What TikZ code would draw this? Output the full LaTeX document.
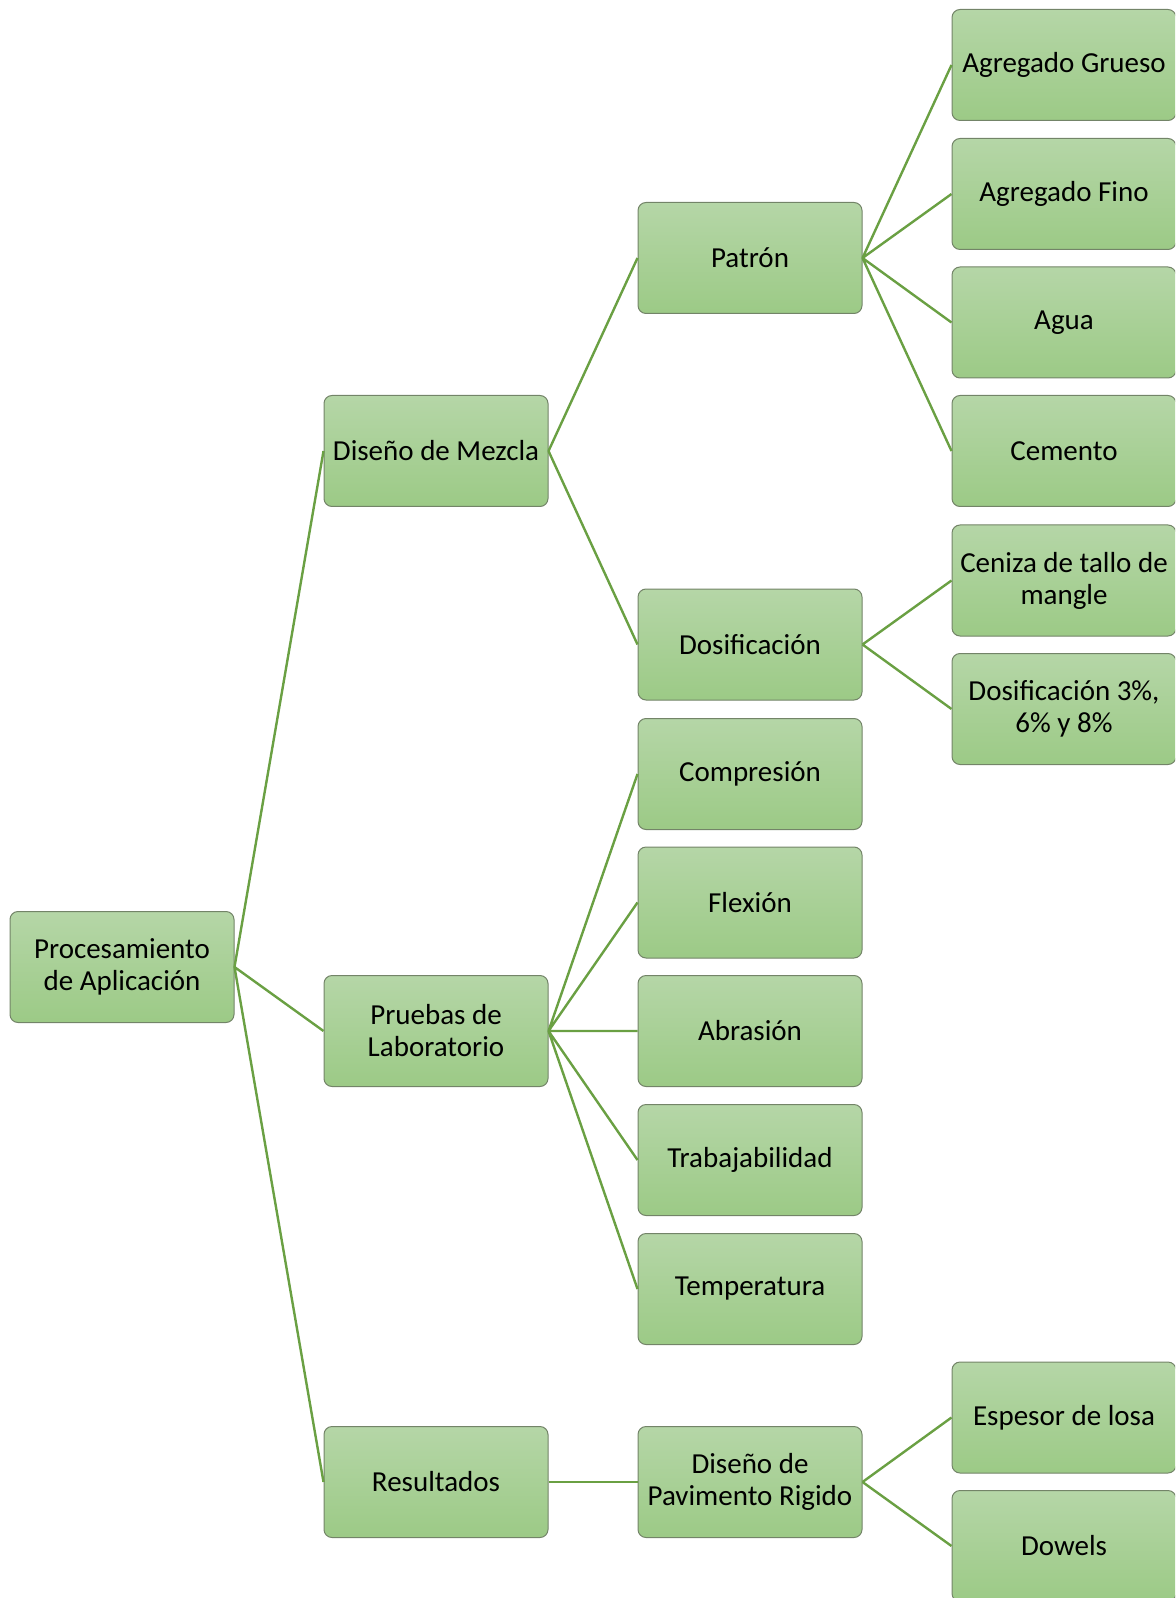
\documentclass[tikz,border=0pt]{standalone}
\usepackage{fontspec}
\setmainfont{Carlito}
\usepackage{tikz}
\definecolor{boxtop}{HTML}{B5D6A7}
\definecolor{boxbottom}{HTML}{9CCA86}
\definecolor{boxedge}{HTML}{738468}
\definecolor{linkgreen}{HTML}{6AA043}

\begin{document}
\begin{tikzpicture}[x=0.5pt, y=-0.5pt,
    box/.style={draw=boxedge, line width=0.5pt, rounded corners=4pt,
        top color=boxtop, bottom color=boxbottom,
        minimum width=112pt, minimum height=55.5pt, inner sep=1pt,
        align=center, font=\fontsize{14.5}{16}\selectfont},
    link/.style={draw=linkgreen, line width=1.2pt}]
    \useasboundingbox (0,0) rectangle (1175,1598);
    \clip (0,0) rectangle (1175,1598);

    % first two levels
    \node [box] (proc) at (122,967) {Procesamiento\\de Aplicación};
    \node [box] (mezcla) at (436,451) {Diseño de Mezcla};
    \node [box] (pruebas) at (436,1031) {Pruebas de\\Laboratorio};
    \node [box] (result) at (436,1482) {Resultados};

    % third level
    \node [box] (patron) at (750,258) {Patrón};
    \node [box] (dosif) at (750,644.5) {Dosificación};
    \node [box] (compr) at (750,774) {Compresión};
    \node [box] (flex) at (750,902.5) {Flexión};
    \node [box] (abras) at (750,1031) {Abrasión};
    \node [box] (trabaj) at (750,1160) {Trabajabilidad};
    \node [box] (temp) at (750,1289) {Temperatura};
    \node [box] (pavim) at (750,1482) {Diseño de\\Pavimento Rigido};

    % last level, cut by the right edge
    \node [box] (grueso) at (1064,65) {Agregado Grueso};
    \node [box] (fino) at (1064,194) {Agregado Fino};
    \node [box] (agua) at (1064,322.5) {Agua};
    \node [box] (cemento) at (1064,451) {Cemento};
    \node [box] (ceniza) at (1064,580.5) {Ceniza de tallo de\\mangle};
    \node [box] (porcent) at (1064,709) {Dosificación 3\%,\\6\% y 8\%};
    \node [box] (espesor) at (1064,1417.5) {Espesor de losa};
    \node [box] (dowels) at (1064,1546) {Dowels};

    \draw [link] (proc.east) -- (mezcla.west) (proc.east) -- (pruebas.west)
        (proc.east) -- (result.west);
    \draw [link] (mezcla.east) -- (patron.west) (mezcla.east) -- (dosif.west);
    \draw [link] (pruebas.east) -- (compr.west) (pruebas.east) -- (flex.west)
        (pruebas.east) -- (abras.west) (pruebas.east) -- (trabaj.west)
        (pruebas.east) -- (temp.west);
    \draw [link] (result.east) -- (pavim.west);
    \draw [link] (patron.east) -- (grueso.west) (patron.east) -- (fino.west)
        (patron.east) -- (agua.west) (patron.east) -- (cemento.west);
    \draw [link] (dosif.east) -- (ceniza.west) (dosif.east) -- (porcent.west);
    \draw [link] (pavim.east) -- (espesor.west) (pavim.east) -- (dowels.west);
\end{tikzpicture}
\end{document}
